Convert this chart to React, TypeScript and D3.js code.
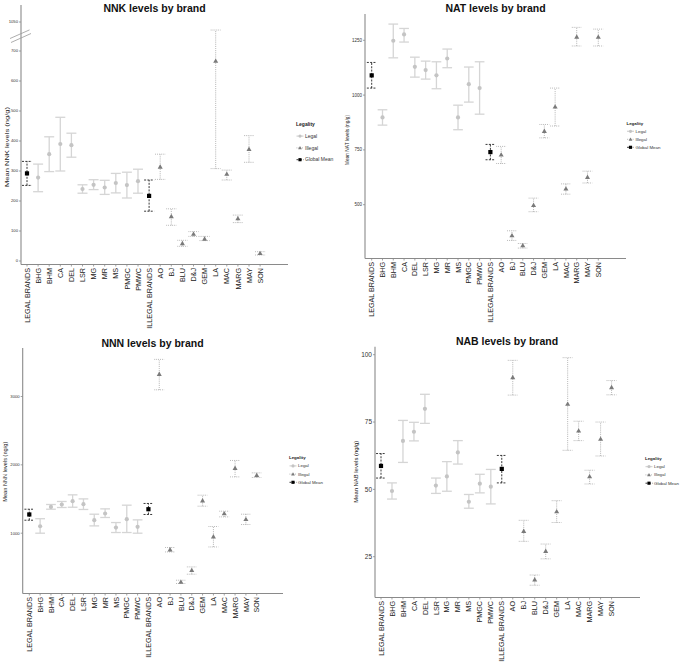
import React from "react";
import * as d3 from "d3";

const categories = ["LEGAL BRANDS", "BHG", "BHM", "CA", "DEL", "LSR", "MG", "MR", "MS", "PMGC", "PMWC", "ILLEGAL BRANDS", "AO", "BJ", "BLU", "D&J", "GEM", "LA", "MAC", "MARG", "MAY", "SON"];
const legality = ["Global Mean", "Legal", "Legal", "Legal", "Legal", "Legal", "Legal", "Legal", "Legal", "Legal", "Legal", "Global Mean", "Illegal", "Illegal", "Illegal", "Illegal", "Illegal", "Illegal", "Illegal", "Illegal", "Illegal", "Illegal"];
const legendItems = ["Legal", "Illegal", "Global Mean"];

const nnkMean = [292, 278, 356, 390, 386, 240, 254, 245, 260, 253, 266, 217, 314, 149, 59, 90, 74, 667, 290, 142, 373, 26];
const nnkLow = [252, 231, 298, 300, 346, 226, 238, 222, 227, 210, 226, 166, 272, 119, 49, 82, 68, 308, 270, 128, 329, 20];
const nnkHigh = [332, 323, 414, 479, 426, 254, 271, 269, 292, 296, 306, 270, 356, 174, 69, 98, 82, 953, 303, 153, 418, 31];
const nnkTicks = [0, 100, 200, 300, 400, 500, 600, 700, 1050];

const natMean = [1090, 898, 1248, 1277, 1129, 1114, 1090, 1167, 898, 1050, 1032, 740, 728, 360, 314, 498, 836, 947, 573, 1266, 626, 1265];
const natLow = [1032, 863, 1170, 1242, 1082, 1073, 1029, 1125, 842, 968, 913, 705, 688, 337, 302, 468, 805, 859, 548, 1224, 599, 1224];
const natHigh = [1149, 933, 1324, 1304, 1173, 1155, 1152, 1210, 954, 1128, 1152, 775, 766, 381, 323, 530, 866, 1032, 595, 1309, 653, 1301];
const natTicks = [500, 750, 1000, 1250];

const nnnMean = [1274, 1102, 1385, 1420, 1469, 1425, 1190, 1288, 1083, 1205, 1093, 1351, 3328, 761, 287, 458, 1478, 951, 1288, 1952, 1205, 1849];
const nnnLow = [1190, 1000, 1351, 1376, 1380, 1347, 1107, 1230, 1010, 1010, 1000, 1274, 3098, 726, 264, 400, 1395, 799, 1239, 1824, 1127, 1815];
const nnnHigh = [1351, 1212, 1420, 1464, 1561, 1502, 1278, 1356, 1156, 1410, 1195, 1435, 3543, 791, 312, 507, 1556, 1098, 1322, 2064, 1278, 1883];
const nnnTicks = [1000, 2000, 3000];

const nabMean = [58.7, 49.4, 68.0, 71.4, 79.9, 51.4, 54.8, 63.7, 45.4, 52.1, 51.0, 57.6, 91.6, 34.5, 16.5, 27.1, 41.8, 81.7, 71.8, 54.8, 68.7, 87.9];
const nabLow = [54.2, 46.4, 60.0, 68.0, 74.5, 48.5, 49.3, 59.4, 43.0, 48.7, 44.6, 52.4, 85.0, 30.7, 14.4, 24.2, 37.7, 64.5, 68.1, 52.0, 62.4, 85.1];
const nabHigh = [63.3, 52.4, 75.6, 74.9, 85.3, 54.2, 60.3, 68.1, 48.1, 55.6, 57.4, 62.6, 97.9, 38.5, 18.2, 29.7, 45.8, 98.9, 75.3, 57.1, 75.0, 90.4];
const nabTicks = [25, 50, 75, 100];

const FONT = "Liberation Sans, Arial, Helvetica, sans-serif";
const AXIS = "#8a8a8a";

const styles: Record<string, any> = {
  Legal: { bar: "#d5d5d5", width: 1.3, dash: null, fill: "#c4c4c4" },
  Illegal: { bar: "#a0a0a0", width: 0.9, dash: "0.8,1.1", fill: "#7a7a7a" },
  "Global Mean": { bar: "#222", width: 0.9, dash: "2,1.3", fill: "#000" },
};

function Marker({ kind, x, y, s = 1 }: any) {
  const st = styles[kind];
  if (kind === "Legal") return <circle cx={x} cy={y} r={2.1 * s} fill={st.fill} />;
  if (kind === "Illegal") {
    const p = d3.symbol(d3.symbolTriangle, 11 * s * s)();
    return <path d={p || ""} transform={`translate(${x},${y + 0.4 * s})`} fill={st.fill} />;
  }
  return <rect x={x - 2.1 * s} y={y - 2.1 * s} width={4.2 * s} height={4.2 * s} fill={st.fill} />;
}

function Panel(p: any) {
  const x = d3.scalePoint<string>().domain(categories).range([p.firstX, p.firstX + p.step * (categories.length - 1)]);
  const y = d3.scaleLinear().domain(p.yDomain).range(p.yRange);
  const cap = p.step * 0.45;
  return (
    <g style={{ fontFamily: FONT }}>
      <text x={p.titleX} y={p.titleY} textAnchor="middle" fontWeight="bold" fontSize={10.5} fill="#111" fontFamily={FONT}>{p.title}</text>
      <text transform={`translate(${p.ylabX},${p.ylabY}) rotate(-90)`} textAnchor="middle" fontSize={4.6} textLength={p.ylabLen} lengthAdjust="spacingAndGlyphs" fill="#222" fontFamily={FONT}>{p.ylabel}</text>
      <line x1={p.x0} x2={p.x0} y1={p.yTop} y2={p.yBottom} stroke={AXIS} strokeWidth={1.1} />
      <line x1={p.x0} x2={p.xEnd} y1={p.yBottom} y2={p.yBottom} stroke={AXIS} strokeWidth={1.1} />
      {p.ticks.map((t: number) => (
        <g key={t}>
          <line x1={p.x0 - 2} x2={p.x0} y1={y(t)} y2={y(t)} stroke={AXIS} strokeWidth={0.8} />
          <text x={p.x0 - 3} y={y(t)} dy="0.35em" textAnchor="end" fontSize={p.tickFont} fill="#333" fontFamily={FONT}>{t}</text>
        </g>
      ))}
      {p.breakAxis && (() => {
        const yb = (y(700) + y(1050)) / 2;
        return (
          <g stroke="#999" strokeWidth={0.8}>
            <line x1={p.x0 - 11} x2={p.x0 + 8.5} y1={yb + 2} y2={yb - 6.6} />
            <line x1={p.x0 - 10} x2={p.x0 + 10} y1={yb + 6} y2={yb - 3} />
          </g>
        );
      })()}
      {categories.map((c) => (
        <g key={c}>
          <line x1={x(c)} x2={x(c)} y1={p.yBottom} y2={p.yBottom + 2} stroke={AXIS} strokeWidth={0.8} />
          <text transform={`translate(${(x(c) as number) + 2.6},${p.yBottom + 3.5}) rotate(-90)`} textAnchor="end" fontSize={7.2} fill="#222" fontFamily={FONT}>{c}</text>
        </g>
      ))}
      {categories.map((c, i) => {
        const kind = legality[i];
        const st = styles[kind];
        const cx = x(c) as number;
        const common = { stroke: st.bar, strokeWidth: st.width, strokeDasharray: st.dash || undefined };
        return (
          <g key={c}>
            <line x1={cx} x2={cx} y1={y(p.low[i])} y2={y(p.high[i])} {...common} />
            <line x1={cx - cap} x2={cx + cap} y1={y(p.low[i])} y2={y(p.low[i])} {...common} />
            <line x1={cx - cap} x2={cx + cap} y1={y(p.high[i])} y2={y(p.high[i])} {...common} />
            <Marker kind={kind} x={cx} y={y(p.mean[i])} />
          </g>
        );
      })}
      <g>
        <text x={p.legX} y={p.legY} dy="0.35em" fontSize={p.legFont} fontWeight="bold" fill="#222" fontFamily={FONT}>Legality</text>
        {legendItems.map((k, j) => {
          const st = styles[k];
          const ly = p.legY + p.legDy * (j + 1);
          const kx = p.legX + 4;
          return (
            <g key={k}>
              <line x1={kx - 3.5} x2={kx + 3.5} y1={ly} y2={ly} stroke={st.bar} strokeWidth={st.width} strokeDasharray={st.dash || undefined} />
              <Marker kind={k} x={kx} y={ly} s={0.75} />
              <text x={kx + 5} y={ly} dy="0.35em" fontSize={p.legFont} fill="#333" fontFamily={FONT}>{k}</text>
            </g>
          );
        })}
      </g>
    </g>
  );
}

export default function App() {
  return (
    <svg width={685} height={667} style={{ position: "absolute", left: 0, top: 0, background: "#fff" }}>
      <Panel title="NNK levels by brand" ylabel="Mean NNK levels (ng/g)" mean={nnkMean} low={nnkLow} high={nnkHigh}
        ticks={nnkTicks} yDomain={[0, 700, 1050]} yRange={[261, 51, 22]} breakAxis
        x0={21} yTop={5} yBottom={264.5} firstX={27} step={11.1} xEnd={288} tickFont={4.2}
        titleX={154.5} titleY={12} ylabX={8.5} ylabY={147} ylabLen={80}
        legX={296} legY={124.3} legDy={11.8} legFont={5} />
      <Panel title="NAT levels by brand" ylabel="Mean NAT levels (ng/g)" mean={natMean} low={natLow} high={natHigh}
        ticks={natTicks} yDomain={[500, 1250]} yRange={[204.7, 40.3]}
        x0={365} yTop={14} yBottom={258.5} firstX={371.7} step={10.79} xEnd={626} tickFont={4.5}
        titleX={495.5} titleY={11.8} ylabX={348.5} ylabY={140} ylabLen={50}
        legX={626.5} legY={123.3} legDy={8} legFont={4.4} />
      <Panel title="NNN levels by brand" ylabel="Mean NNN levels (ng/g)" mean={nnnMean} low={nnnLow} high={nnnHigh}
        ticks={nnnTicks} yDomain={[1000, 3000]} yRange={[533.2, 396.5]}
        x0={22.7} yTop={348} yBottom={593.5} firstX={29.3} step={10.83} xEnd={283} tickFont={4.2}
        titleX={152.5} titleY={347.3} ylabX={6.5} ylabY={471.7} ylabLen={60}
        legX={289} legY={457.7} legDy={8.2} legFont={4.4} />
      <Panel title="NAB levels by brand" ylabel="Mean NAB levels (ng/g)" mean={nabMean} low={nabLow} high={nabHigh}
        ticks={nabTicks} yDomain={[25, 100]} yRange={[556.7, 354.7]}
        x0={375} yTop={346.7} yBottom={597.5} firstX={381} step={10.98} xEnd={640} tickFont={6.5}
        titleX={507} titleY={345.3} ylabX={357.5} ylabY={471.7} ylabLen={62}
        legX={645} legY={458.3} legDy={8.3} legFont={4.4} />
    </svg>
  );
}
